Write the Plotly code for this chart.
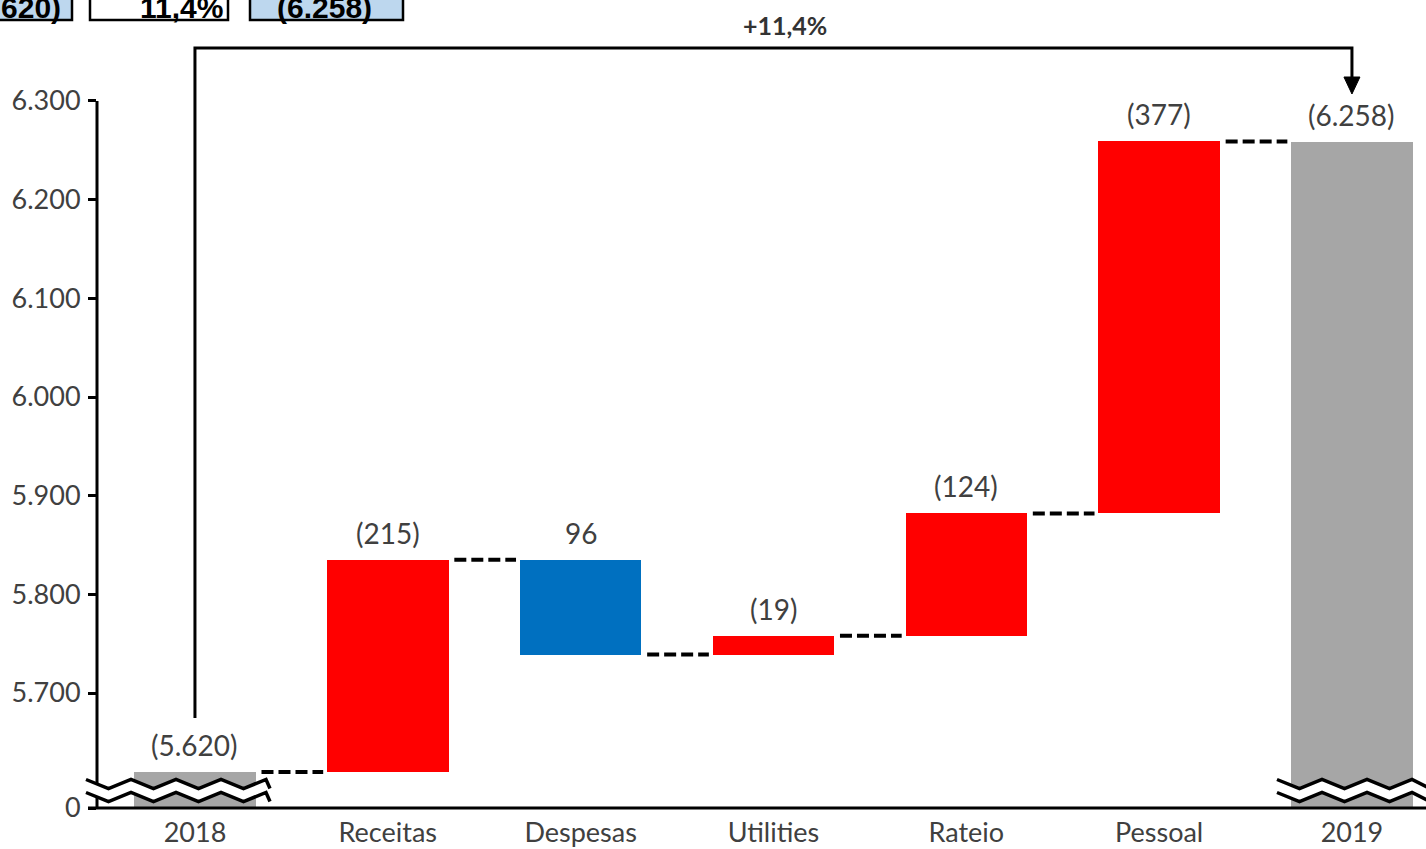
import plotly.graph_objects as go

# ---------------- data ----------------
categories = ["2018", "Receitas", "Despesas", "Utilities", "Rateio", "Pessoal", "2019"]
start_value = 5620
changes = [215, -96, 19, 124, 377]          # positive = cost increase (red), negative = reduction (blue)
end_value = 6258
axis_break = 5583.5                         # axis bottom, shown as "0" (broken axis)
ytick_values = [5700, 5800, 5900, 6000, 6100, 6200, 6300]

# ---------------- derived ----------------
def fmt(v):
    return f"{abs(v):,}".replace(",", ".")

levels = [start_value]
for c in changes:
    levels.append(levels[-1] + c)

bases, heights, colors, labels = [], [], [], []
bases.append(axis_break); heights.append(start_value - axis_break)
colors.append("#A6A6A6"); labels.append(f"({fmt(start_value)})")
for i, c in enumerate(changes):
    bases.append(min(levels[i], levels[i + 1]))
    heights.append(abs(c))
    colors.append("#FF0000" if c > 0 else "#0070C0")
    labels.append(f"({fmt(c)})" if c > 0 else fmt(c))
bases.append(axis_break); heights.append(end_value - axis_break)
colors.append("#A6A6A6"); labels.append(f"({fmt(end_value)})")

pct = (end_value / start_value - 1) * 100
pct_txt = f"+{pct:.1f}%".replace(".", ",")

xpos = list(range(len(categories)))
BW = 0.63

# layout geometry (pixels)
W, H = 1426, 849
ML, MR, MT, MB = 97, 0, 40, 41
PW, PH = W - ML - MR, H - MT - MB
x_range = [-0.508, 6.384]
px_per_unit = PH / 778.3
y_range = [axis_break, axis_break + 778.3]

def px2paper_x(px):
    return (px - ML) / PW

def px2paper_y(py):
    return (H - MB - py) / PH

def px2data_y(py):
    return y_range[0] + (H - MB - py) / px_per_unit

fig = go.Figure()
fig.add_trace(go.Bar(
    x=xpos, y=heights, base=bases, width=BW,
    marker=dict(color=colors, line=dict(width=0)),
    hoverinfo="skip", showlegend=False,
))

shapes = []
annotations = []

FONT_FAM = "Lato, Open Sans, sans-serif"
LABEL_FONT = dict(family=FONT_FAM, size=28, color="#404040")

# value labels
for i, lab in enumerate(labels):
    annotations.append(dict(
        x=xpos[i], y=bases[i] + heights[i], xref="x", yref="y",
        text=lab, showarrow=False, yanchor="bottom", yshift=8,
        font=LABEL_FONT,
    ))

# connectors
for i in range(len(categories) - 1):
    lvl = levels[i]
    shapes.append(dict(
        type="line", xref="x", yref="y",
        x0=xpos[i] + BW / 2 + 0.03, x1=xpos[i + 1] - BW / 2 - 0.02,
        y0=lvl, y1=lvl,
        line=dict(color="black", width=4, dash="12px,5px"),
    ))

# y axis line (only up to top tick)
shapes.append(dict(type="line", xref="paper", yref="y", x0=0, x1=0,
                   y0=axis_break, y1=ytick_values[-1],
                   line=dict(color="black", width=3)))
# x axis line
shapes.append(dict(type="line", xref="paper", yref="paper",
                   x0=px2paper_x(88), x1=1, y0=0, y1=0,
                   line=dict(color="black", width=3)))

# bracket with arrow
top_y = px2data_y(48)
shapes.append(dict(
    type="path", xref="x", yref="y",
    path=f"M {xpos[0]},{px2data_y(718)} L {xpos[0]},{top_y} L {xpos[-1]},{top_y} L {xpos[-1]},{px2data_y(80)}",
    line=dict(color="black", width=3),
))
hw = 8 / (PW / (x_range[1] - x_range[0]))
shapes.append(dict(
    type="path", xref="x", yref="y",
    path=f"M {xpos[-1]-hw},{px2data_y(77)} L {xpos[-1]+hw},{px2data_y(77)} L {xpos[-1]},{px2data_y(94)} Z",
    fillcolor="black", line=dict(color="black", width=1),
))
annotations.append(dict(
    x=px2paper_x(785), y=px2paper_y(25), xref="paper", yref="paper",
    xanchor="center", yanchor="middle",
    text=f"<b>{pct_txt}</b>", showarrow=False,
    font=dict(family=FONT_FAM, size=25, color="#333333"),
))

# axis break zigzags
def zigzag(x0, x1, yc, amp=4.5, period=45):
    pts = []
    x = x0
    k = 0
    while x < x1 + period / 2:
        xx = min(x, x1)
        yy = yc + (-amp if k % 2 == 0 else amp)
        pts.append((xx, yy))
        x += period / 2
        k += 1
    return pts

def path_from(pts):
    return "M " + " L ".join(f"{px2paper_x(a)},{px2paper_y(b)}" for a, b in pts)

for (xa, xb) in [(86, 270), (1277, 1430)]:
    up = zigzag(xa, xb, 784)
    lo = zigzag(xa, xb, 797)
    band = path_from(up) + " L " + " L ".join(
        f"{px2paper_x(a)},{px2paper_y(b)}" for a, b in reversed(lo)) + " Z"
    shapes.append(dict(type="path", xref="paper", yref="paper", path=band,
                       fillcolor="white", line=dict(color="white", width=1)))
    for pts in (up, lo):
        shapes.append(dict(type="path", xref="paper", yref="paper", path=path_from(pts),
                           line=dict(color="black", width=3.5)))

# top-left cropped boxes (cells of a table cut at the top of the image)
BOX_FONT = dict(family="Liberation Sans, Arial, sans-serif", size=30, color="black")
boxes = [  # (left px, right px, fill, text, text anchor, text x px)
    (-60, 72, "#BDD7EE", f"<b>({fmt(start_value)})</b>", "right", 62),
    (90, 228, "white", f"<b>{pct_txt[1:]}</b>", "right", 224),
    (250, 403, "#BDD7EE", f"<b>({fmt(end_value)})</b>", "center", 324),
]
for (l, r, fill, txt, anc, tx) in boxes:
    shapes.append(dict(type="rect", xref="paper", yref="paper",
                       x0=px2paper_x(l), x1=px2paper_x(r),
                       y0=px2paper_y(20), y1=px2paper_y(-20),
                       fillcolor=fill, line=dict(color="black", width=2.5)))
    annotations.append(dict(x=px2paper_x(tx), y=px2paper_y(25), xref="paper", yref="paper",
                            xanchor=anc, yanchor="bottom", text=txt, showarrow=False,
                            font=BOX_FONT, borderpad=0))

fig.update_layout(
    width=W, height=H,
    margin=dict(l=ML, r=MR, t=MT, b=MB),
    paper_bgcolor="white", plot_bgcolor="white",
    shapes=shapes, annotations=annotations,
    bargap=0, showlegend=False,
    xaxis=dict(
        range=x_range, tickvals=xpos, ticktext=categories,
        showgrid=False, zeroline=False, showline=False, ticks="",
        tickfont=dict(family=FONT_FAM, size=27, color="#404040"),
        ticklabelstandoff=6, automargin=False,
    ),
    yaxis=dict(
        range=y_range,
        tickvals=[axis_break] + ytick_values,
        ticktext=["0"] + [fmt(v) for v in ytick_values],
        showgrid=False, zeroline=False, showline=False,
        ticks="outside", ticklen=8, tickwidth=2.5, tickcolor="black",
        tickfont=dict(family=FONT_FAM, size=27, color="#404040"),
        ticklabelstandoff=2, automargin=False,
    ),
)

fig.write_html(
    "out.html",
    config={"displayModeBar": False},
    post_script="document.body.style.margin='0';document.body.style.overflow='hidden';",
)
